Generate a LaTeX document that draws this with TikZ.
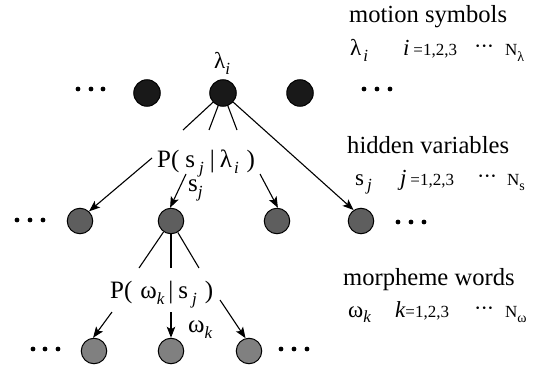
\documentclass[tikz,border=0pt]{standalone}
\usepackage{fontspec}
\setmainfont{Liberation Serif}
\usetikzlibrary{arrows.meta}
\newcommand{\lsub}[1]{\raisebox{-0.24em}{\fontsize{17}{17}\selectfont\itshape #1}}
\newcommand{\nsub}[1]{\raisebox{-0.3em}{\fontsize{14}{14}\selectfont #1}}
\newcommand{\mydots}{\fontsize{22}{22}\selectfont\textperiodcentered\hspace{-1pt}\textperiodcentered\hspace{-1pt}\textperiodcentered}
\begin{document}
\begin{tikzpicture}[x=1pt,y=-1pt,
  topnode/.style={circle,draw=black,fill=black!90,line width=1pt,minimum size=26.5pt,inner sep=0pt},
  midnode/.style={circle,draw=black,fill=black!63,line width=1pt,minimum size=25.5pt,inner sep=0pt},
  botnode/.style={circle,draw=black,fill=black!50,line width=1pt,minimum size=25.5pt,inner sep=0pt},
  link/.style={line width=1.1pt},
  arr/.style={line width=1.1pt,-{Stealth[length=11pt,width=8.5pt,inset=2.5pt]}},
  txt/.style={inner sep=0pt,anchor=base west,font=\fontsize{24.6}{26}\selectfont},
  lbl/.style={inner sep=0pt,anchor=base west,font=\fontsize{25}{26}\selectfont},
  midtxt/.style={inner sep=0pt,anchor=base west,font=\fontsize{17}{19}\selectfont},
  vartxt/.style={inner sep=0pt,anchor=base west,font=\fontsize{23}{24}\selectfont}]
\useasboundingbox (0,0) rectangle (541,369);

% top row
\node[topnode] (t1) at (147,93) {};
\node[topnode] (t2) at (223,93) {};
\node[topnode] (t3) at (300,93) {};
% middle row
\node[midnode] (m1) at (80,221) {};
\node[midnode] (m2) at (171,221) {};
\node[midnode] (m3) at (277,221) {};
\node[midnode] (m4) at (361,221) {};
% bottom row
\node[botnode] (b1) at (94,351) {};
\node[botnode] (b2) at (171,351) {};
\node[botnode] (b3) at (249,351) {};

% ellipsis dots
\foreach \x/\y in {78/89,91/89,103/89,364/89,377/89,390/89,
                   17/220,30/220,43/220,398/222,411/222,424/222,
                   33/349,45/349,58/349,281/349,294/349,307/349}
  \fill (\x,\y) circle (2.4pt);

% labels in the tree
\node[vartxt] (lami) at (214,69) {λ\lsub{i}};
\node[lbl] (pst) at (157,167) {P(\hspace{6pt}s\hspace{4pt}\lsub{j}\hspace{6pt}|\hspace{5pt}λ\hspace{2pt}\lsub{i}\hspace{8pt})};
\node[lbl] (sj) at (188,191) {s\lsub{j}};
\node[lbl] (pws) at (110,298) {P(\hspace{8pt}ω\lsub{k}\hspace{4pt}|\hspace{5pt}s\hspace{4pt}\lsub{j}\hspace{8pt})};
\node[lbl] (wk) at (188,332) {ω\lsub{k}};

% connectors top -> label
\coordinate (c1) at (183,130);
\coordinate (c2) at (209,130);
\coordinate (c3) at (237,130);
\draw[link] (t2) -- (c1);
\draw[link] (t2) -- (c2);
\draw[link] (t2) -- (c3);
\draw[arr] (t2) -- (m4.124);
% label -> middle circles
\coordinate (d1) at (152,158);
\coordinate (d2) at (186,174);
\coordinate (d3) at (260,174);
\draw[arr] (d1) -- (m1.47);
\draw[arr] (d2) -- (m2.94);
\draw[arr] (d3) -- (m3.86);
% middle -> label
\coordinate (e1) at (139,268);
\coordinate (e2) at (171,268);
\coordinate (e3) at (199,268);
\draw[link] (m2) -- (e1);
\draw[link] (m2.south) -- (e2);
\draw[link] (m2) -- (e3);
% label -> bottom circles
\coordinate (f1) at (112,312);
\coordinate (f2) at (171,312);
\coordinate (f3) at (220,300);
\draw[arr] (f1) -- (b1.94);
\draw[arr] (f2) -- (b2.north);
\draw[arr] (f3) -- (b3.105);

% right column
\node[txt] (h1) at (349,23) {motion symbols};
\node[vartxt] (v1) at (350,56) {λ\hspace{2pt}\lsub{i}};
\node[vartxt] (r1) at (403,56) {\itshape i\,\fontsize{17}{19}\upshape\selectfont =1,2,3};
\node[midtxt] (q1) at (474,54) {\mydots};
\node[midtxt] (n1) at (505,56) {N\nsub{λ}};

\node[txt] (h2) at (347,153) {hidden variables};
\node[vartxt] (v2) at (355,185) {s\hspace{3pt}\lsub{j}};
\node[vartxt] (r2) at (400,185) {\itshape j\,\fontsize{17}{19}\upshape\selectfont =1,2,3};
\node[midtxt] (q2) at (477,183) {\mydots};
\node[midtxt] (n2) at (507,185) {N\nsub{s}};

\node[txt] (h3) at (343,285) {morpheme words};
\node[vartxt] (v3) at (348,317) {ω\lsub{k}};
\node[vartxt] (r3) at (395,317) {\itshape k\fontsize{17}{19}\upshape\selectfont =1,2,3};
\node[midtxt] (q3) at (474,315) {\mydots};
\node[midtxt] (n3) at (505,317) {N\nsub{ω}};
\end{tikzpicture}
\end{document}
